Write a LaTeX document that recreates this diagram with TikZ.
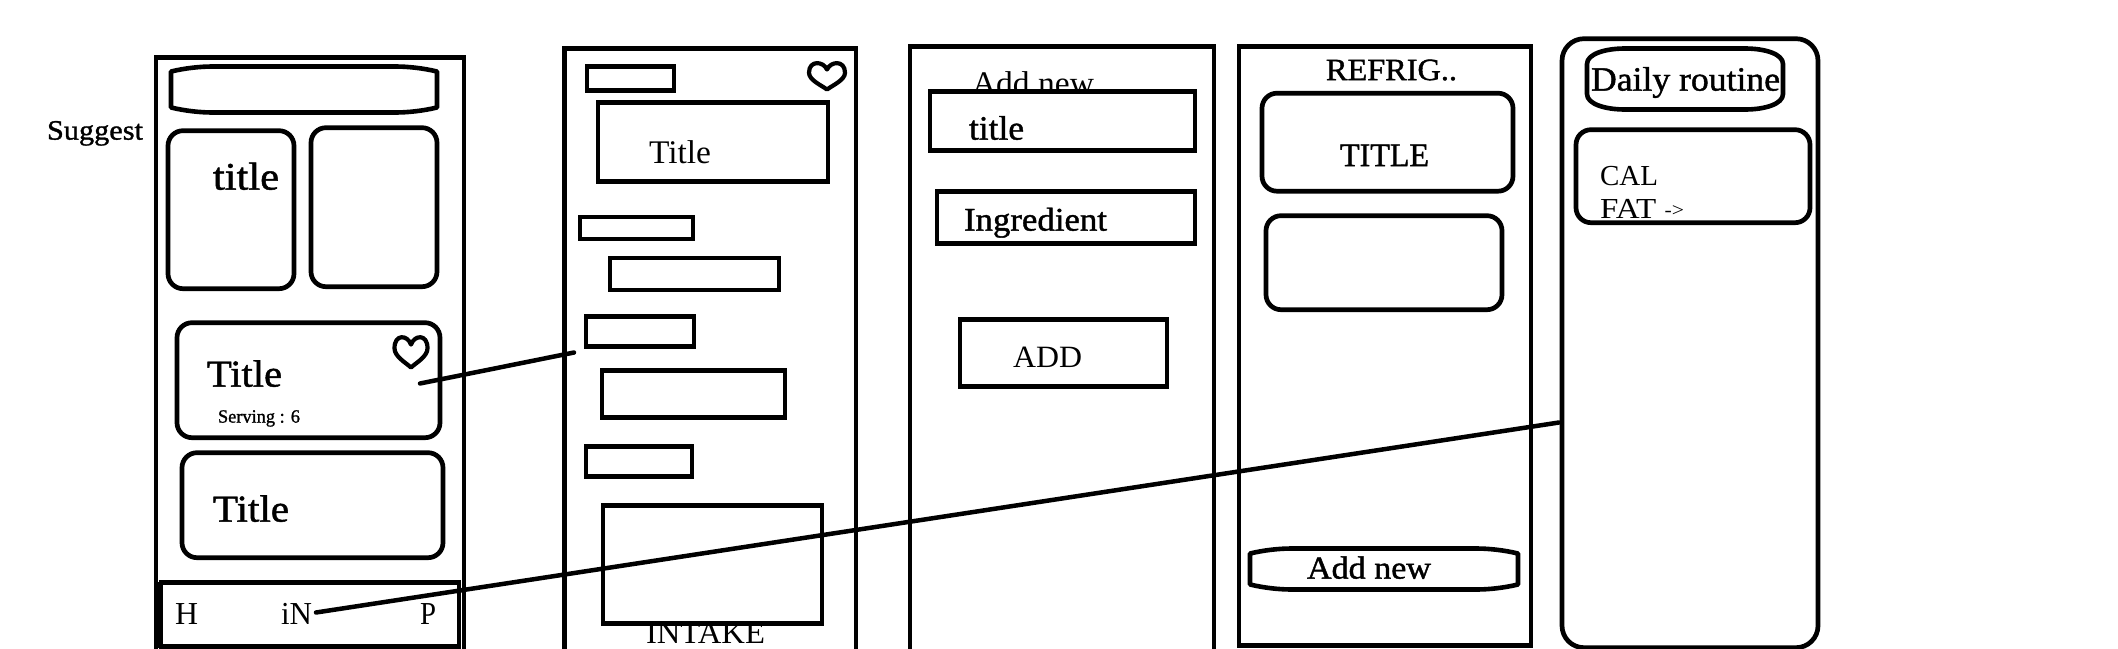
\documentclass[tikz,border=0pt]{standalone}
\usepackage{fontspec}
\usepackage{graphicx}
\setmainfont{Liberation Serif}
\newfontfamily\heavyserif[FakeBold=1.2]{Liberation Serif}
\tikzset{
  ln/.style={draw=black,line width=4.7pt,line join=miter},
  sq/.style={ln,rectangle,inner sep=0pt,outer sep=0pt},
  sqw/.style={sq,fill=white},
  thin box/.style={sq,line width=4.1pt},
  rnd/.style={sq,rounded corners=15pt},
  rndb/.style={sq,rounded corners=22pt},
  wire/.style={draw=black,line width=4.5pt,line cap=round},
  curvy/.style={draw=black,line width=4.6pt,line join=round},
  heartline/.style={draw=black,line width=4.2pt,line join=round},
  lbl/.style={inner sep=0pt,outer sep=0pt,anchor=base west,text=black}
}
% name, style, x1, y1, x2, y2
\newcommand\bx[6]{%
  \pgfmathsetmacro\bxW{#5-#3}\pgfmathsetmacro\bxH{#6-#4}%
  \pgfmathsetmacro\bxX{(#3+#5)/2}\pgfmathsetmacro\bxY{(#4+#6)/2+0.7}%
  \node[#2,minimum width=\bxW pt,minimum height=\bxH pt] (#1) at (\bxX,\bxY) {};}
% name, x1, x2, baseline, size, text
\newcommand\tx[6]{%
  \pgfmathsetmacro\txW{#3-#2}\pgfmathsetmacro\txB{#4+1.6}%
  \node[lbl] (#1) at (#2,\txB) {\fontsize{#5}{#5}\selectfont\resizebox{\txW pt}{\height}{#6}};}
% x1,y1,x2,y2,bulge-y,inset-x
\newcommand\tape[6]{%
  \pgfmathsetmacro\tL{#1+#6}\pgfmathsetmacro\tR{#3-#6}%
  \pgfmathsetmacro\tT{#2+#5}\pgfmathsetmacro\tB{#4-#5}%
  \draw[curvy] (#1,\tT) .. controls (#1+#6*0.35,#2+#5*0.3) and (#1+#6*0.7,#2) .. (\tL,#2) -- (\tR,#2)
     .. controls (#3-#6*0.7,#2) and (#3-#6*0.35,#2+#5*0.3) .. (#3,\tT) -- (#3,\tB)
     .. controls (#3-#6*0.35,#4-#5*0.3) and (#3-#6*0.7,#4) .. (\tR,#4) -- (\tL,#4)
     .. controls (#1+#6*0.7,#4) and (#1+#6*0.35,#4-#5*0.3) .. (#1,\tB) -- cycle;}
% cx,cy,w,h
\newcommand\hrt[4]{%
  \begin{scope}[shift={(#1,#2)},x=#3pt,y=-#4pt]
  \draw[heartline] (0,-.24) .. controls (.1,-.55) and (.5,-.6) .. (.5,-.12)
    .. controls (.5,.15) and (.15,.35) .. (0,.5)
    .. controls (-.15,.35) and (-.5,.15) .. (-.5,-.12)
    .. controls (-.5,-.6) and (-.1,-.55) .. (0,-.24) -- cycle;
  \end{scope}}
\begin{document}
\begin{tikzpicture}[x=1pt,y=-1pt]
\useasboundingbox (0,0) rectangle (2118,648);
\clip (0,0) rectangle (2118,648);
\fill[white] (0,0) rectangle (2118,648);

% phone 1
\bx{p1}{sq}{156}{57}{464}{670}
\tape{171}{66.5}{437}{112.5}{5}{42}
\bx{c1}{rnd}{168}{130}{294}{288}
\bx{c2}{rnd}{311}{127}{437}{286}
\bx{c3}{rnd}{177}{322}{440}{437}
\bx{c4}{rnd}{182}{452}{443}{557}
\bx{tab}{sq}{161}{582}{459}{646}
\draw[draw=black,line width=4pt] (158.5,582) -- (158.5,648);
\tx{tSug}{47}{143}{138}{28}{{\heavyserif Suggest}}
\tx{tt1}{213}{279}{188}{39}{{\heavyserif title}}
\tx{tt2}{207}{282}{385}{38}{{\heavyserif Title}}
\tx{tserv}{218}{300}{421}{18.7}{{\heavyserif Serving : 6}}
\tx{tt3}{213}{289}{520}{38}{{\heavyserif Title}}
\tx{tH}{175}{198}{623}{32}{H}
\tx{tiN}{281}{312}{623}{32}{iN}
\tx{tP}{420}{436}{623}{32}{P}
\hrt{411}{352}{33}{31}

% phone 2
\bx{p2}{sq}{564.5}{47.5}{856}{670}
\bx{b1}{sq}{587}{66}{674}{90}
\hrt{827}{76}{36}{27}
\bx{b2}{sq}{598}{102}{828}{181}
\tx{tt4}{649}{711}{162}{33}{Title}
\bx{b3}{thin box}{580}{216}{693}{238}
\bx{b4}{thin box}{610}{257}{779}{289}
\bx{b5}{sq}{586}{316}{694}{346}
\bx{b6}{sq}{602}{370}{785}{417}
\bx{b7}{sq}{586}{446}{692}{476}
\tx{tint}{646}{765}{642}{32}{INTAKE}
\bx{b8}{sq}{603}{505}{822}{623}

% phone 3
\bx{p3}{sq}{910}{46}{1214}{670}
\tx{tadd}{972}{1094}{93}{33}{Add new}
\bx{d1}{sqw}{930}{91}{1195}{150}
\tx{ttl}{969}{1024}{138}{34}{{\heavyserif title}}
\bx{d2}{sq}{937}{191}{1195}{243}
\tx{ting}{964}{1107}{229}{33}{{\heavyserif Ingredient}}
\bx{d3}{sq}{960}{319}{1167}{386}
\tx{tadd2}{1013}{1082}{366}{31}{ADD}

% phone 4
\bx{p4}{sq}{1239}{45.5}{1531}{645}
\tx{tref}{1326}{1457}{78.5}{31}{{\heavyserif REFRIG..}}
\bx{e1}{rnd}{1262}{92.5}{1513}{190.5}
\tx{ttit}{1340}{1429}{164.5}{33}{{\heavyserif TITLE}}
\bx{e2}{rnd}{1266}{215}{1502}{309}
\tape{1250}{548.5}{1518}{589.5}{5}{42}
\tx{tadd3}{1307}{1431}{577}{32}{{\heavyserif Add new}}

% phone 5
\bx{p5}{rndb}{1562}{38}{1818}{647}
\draw[curvy] (1587,64) .. controls (1587,54) and (1605,48.5) .. (1625,48.5) -- (1745,48.5)
  .. controls (1765,48.5) and (1783,54) .. (1783,64) -- (1783,94)
  .. controls (1783,104) and (1765,109.5) .. (1745,109.5) -- (1625,109.5)
  .. controls (1605,109.5) and (1587,104) .. (1587,94) -- cycle;
\tx{tday}{1591}{1780}{89}{34}{{\heavyserif Daily routine}}
\bx{f1}{rnd}{1576}{129}{1810}{222}
\tx{tcal}{1600}{1658}{184}{29}{CAL}
\tx{tfat}{1600}{1684}{217}{29}{FAT {\fontsize{19}{19}\selectfont\raisebox{2pt}{->}}}

% connectors
\coordinate (w1a) at (420,383.5);
\coordinate (w1b) at (574,352.5);
\coordinate (w2a) at (316,612.5);
\coordinate (w2b) at (1559,422.5);
\draw[wire] (w1a) -- (w1b);
\draw[wire] (w2a) -- (w2b);
\end{tikzpicture}
\end{document}
